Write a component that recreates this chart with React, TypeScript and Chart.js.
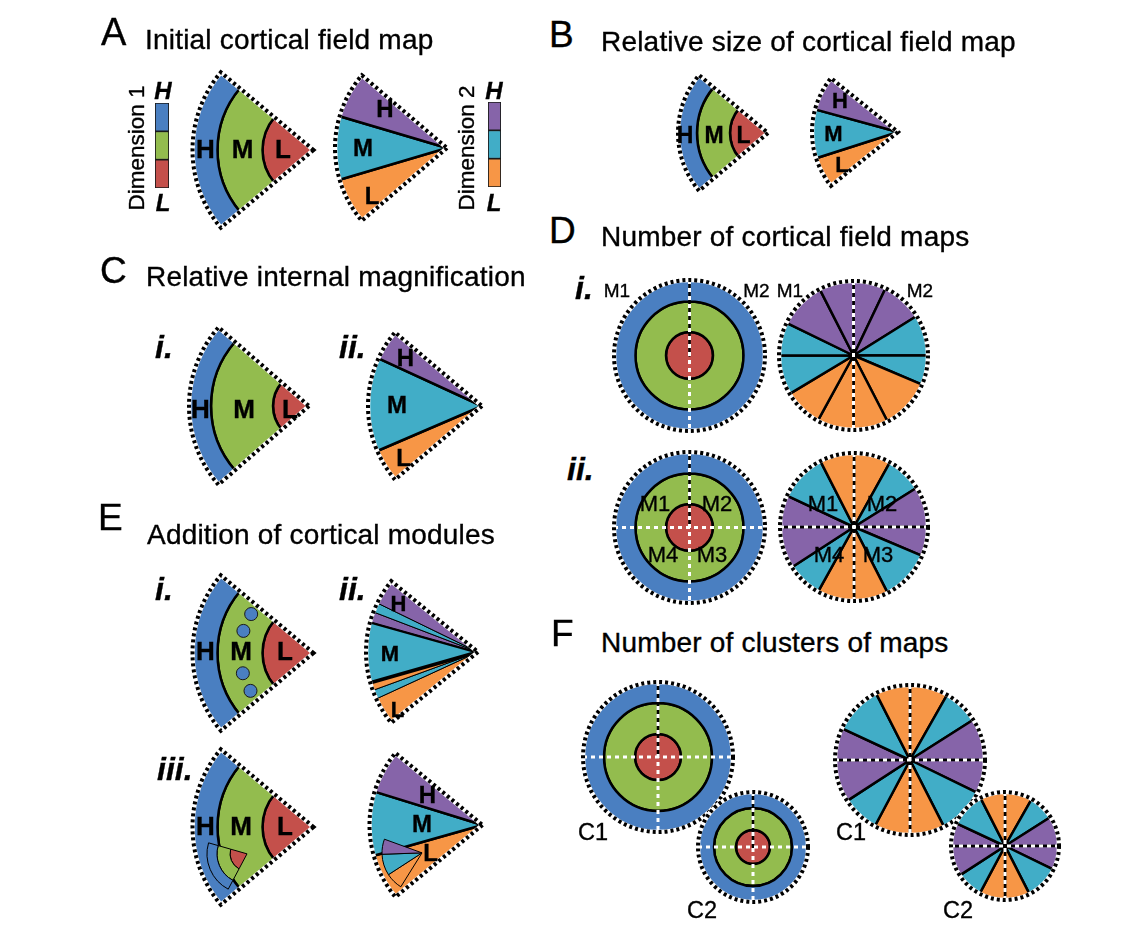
import React, { useEffect, useRef } from 'react';
import { Chart, registerables } from 'chart.js';

Chart.register(...registerables);

const BLUE = '#4a7fc1';
const GREEN = '#93bc4e';
const RED = '#c4504b';
const PURPLE = '#8664a9';
const CYAN = '#41adc7';
const ORANGE = '#f79646';

// Dimension 1: concentric bands, outer H (blue), M (green), inner L (red) — radial widths in px
const DIM1_COLORS = [BLUE, GREEN, RED];
const A1_RINGS = [25, 45, 51];
const B1_RINGS = [19, 33, 38];
const C1_RINGS = [22, 62, 36];
const E1_RINGS = [25, 45, 51];
const E3_RINGS = [25, 45, 51];
const E3_INSET_RINGS = [10, 13, 17];
const D1_RINGS = [21.5, 30.5, 23.5];
const D2_RINGS = [21.5, 30.5, 23.5];
const F_C1_RINGS = [21, 31, 23];
const F_C2_RINGS = [16, 22, 17];

// Dimension 2: angular slices (degrees), clockwise from the lower edge: L (orange), M (cyan), H (purple)
const DIM2_COLORS = [ORANGE, CYAN, PURPLE];
const A2_SLICES = [24, 33, 24];
const B2_SLICES = [21, 33, 23.5];
const C2_SLICES = [17, 48, 15.5];
const E2_SLICES = [14.5, 4.7, 4.1, 31.6, 5.3, 5, 13.3];
const E2_COLORS = [ORANGE, CYAN, ORANGE, CYAN, PURPLE, CYAN, PURPLE];
const E2_BORDERS = [1, 1, 1, 3.5, 1, 1, 1];
const E3_SLICES = [23.8, 33, 22.4];
const E3_INSET_SLICES = [25, 31, 22];

// Full circle maps, slices clockwise from 12 o'clock (degrees)
const DI_SLICES = [25.5, 32.5, 32, 23, 39.7, 27.3, 28.7, 30.3, 31, 26, 37, 27];
const DI_COLORS = [PURPLE, PURPLE, CYAN, CYAN, ORANGE, ORANGE, ORANGE, ORANGE, CYAN, CYAN, PURPLE, PURPLE];
const DII_SLICES = [29, 29, 32, 23, 40, 27, 29, 28, 33, 25, 38, 27];
const DII_COLORS = [ORANGE, CYAN, PURPLE, PURPLE, CYAN, ORANGE, ORANGE, CYAN, PURPLE, PURPLE, CYAN, ORANGE];
const F_SLICES = [29.6, 28, 32.4, 26, 37, 27, 28, 29, 33, 25, 38, 27];
const F_COLORS = DII_COLORS;

// Cortical modules in E i: angular offsets (deg) from the wedge axis, placed mid M band
const E1_MODULES = [32, 17.5, -16, -31];

// colour bar legend segments (bottom to top)
const BAR_SEGMENTS = [1, 1, 1];
const DIM1_BAR_COLORS = [RED, GREEN, BLUE];
const DIM2_BAR_COLORS = [ORANGE, CYAN, PURPLE];

const FONT = "'Liberation Sans', Arial, Helvetica, sans-serif";

type Spec = {
  kind: 'rings' | 'slices';
  values: number[];
  colors: string[];
  cx: number;
  cy: number;
  r?: number;
  start: number;
  circ?: number;
  border: number | number[];
  outline: boolean;
  cross?: 'v' | 'vh';
  modules?: number[];
};

const sum = (a: number[]) => a.reduce((s, v) => s + v, 0);
const wedgeStart = (c: number) => 180 - c / 2;

function makeDecor(spec: Spec) {
  return {
    id: 'decor',
    afterDatasetsDraw(chart: any) {
      const ctx = chart.ctx as CanvasRenderingContext2D;
      const arcs = chart.getDatasetMeta(0).data as any[];
      if (!arcs.length) return;
      const first = arcs[0];
      const last = arcs[arcs.length - 1];
      const x = first.x;
      const y = first.y;
      const R = first.outerRadius;
      const sa = first.startAngle;
      const ea = last.endAngle;
      const full = ea - sa >= 2 * Math.PI - 1e-6;
      ctx.save();
      if (spec.modules && chart.data.datasets.length > 1) {
        const ring = chart.getDatasetMeta(1).data[0] as any;
        const mr = (ring.innerRadius + ring.outerRadius) / 2;
        const axis = (sa + ea) / 2;
        for (const d of spec.modules) {
          const a = axis + (d * Math.PI) / 180;
          ctx.beginPath();
          ctx.arc(x + mr * Math.cos(a), y + mr * Math.sin(a), 6.5, 0, 2 * Math.PI);
          ctx.fillStyle = BLUE;
          ctx.fill();
          ctx.lineWidth = 1;
          ctx.strokeStyle = '#1a1a1a';
          ctx.stroke();
        }
      }
      if (spec.cross) {
        ctx.strokeStyle = '#fff';
        ctx.lineWidth = 3;
        ctx.setLineDash([4, 4]);
        ctx.beginPath();
        ctx.moveTo(x, y - R);
        ctx.lineTo(x, y + R);
        if (spec.cross === 'vh') {
          ctx.moveTo(x - R, y);
          ctx.lineTo(x + R, y);
        }
        ctx.stroke();
      }
      if (spec.outline) {
        ctx.beginPath();
        if (full) {
          ctx.arc(x, y, R, 0, 2 * Math.PI);
        } else {
          ctx.moveTo(x, y);
          ctx.lineTo(x + R * Math.cos(sa), y + R * Math.sin(sa));
          ctx.arc(x, y, R, sa, ea);
          ctx.closePath();
        }
        ctx.lineJoin = 'miter';
        ctx.setLineDash([]);
        ctx.lineWidth = 4.5;
        ctx.strokeStyle = '#fff';
        ctx.stroke();
        ctx.setLineDash([3, 3]);
        ctx.lineWidth = 4;
        ctx.strokeStyle = '#000';
        ctx.stroke();
      }
      ctx.restore();
    },
  };
}

function Sector({ spec }: { spec: Spec }) {
  const ref = useRef<HTMLCanvasElement>(null);
  const R = spec.kind === 'rings' ? sum(spec.values) : (spec.r as number);
  const pad = 8;
  const W = Math.ceil(2 * R + 2 * pad);
  useEffect(() => {
    const canvas = ref.current as HTMLCanvasElement;
    const circ = spec.circ ?? (spec.kind === 'slices' ? sum(spec.values) : 360);
    const datasets =
      spec.kind === 'rings'
        ? spec.values.map((w, i) => ({
            data: [1],
            weight: w,
            backgroundColor: spec.colors[i],
            borderColor: '#000',
            borderWidth: spec.border,
          }))
        : [
            {
              data: spec.values,
              backgroundColor: spec.colors,
              borderColor: '#000',
              borderWidth: spec.border,
            },
          ];
    const chart = new Chart(canvas, {
      type: 'pie',
      data: {
        labels: spec.kind === 'rings' ? [''] : spec.values.map((_, i) => String(i)),
        datasets: datasets as any,
      },
      options: {
        responsive: false,
        animation: false,
        events: [],
        rotation: spec.start + 90,
        circumference: circ,
        radius: R,
        layout: { padding: 0 },
        elements: { arc: { borderAlign: 'center', borderJoinStyle: 'round' } as any },
        plugins: { legend: { display: false }, tooltip: { enabled: false } },
      } as any,
      plugins: [makeDecor(spec)],
    });
    const el: any = chart.getDatasetMeta(0).data[0];
    canvas.style.left = `${spec.cx - el.x}px`;
    canvas.style.top = `${spec.cy - el.y}px`;
    return () => chart.destroy();
  }, []);
  return (
    <canvas
      ref={ref}
      width={W}
      height={W}
      style={{ position: 'absolute', left: spec.cx - W / 2, top: spec.cy - W / 2, width: W, height: W }}
    />
  );
}

function ColorBar({ x, y, w, h, colors }: { x: number; y: number; w: number; h: number; colors: string[] }) {
  const ref = useRef<HTMLCanvasElement>(null);
  useEffect(() => {
    const chart = new Chart(ref.current as HTMLCanvasElement, {
      type: 'bar',
      data: {
        labels: [''],
        datasets: colors.map((c, i) => ({
          data: [BAR_SEGMENTS[i]],
          backgroundColor: c,
          borderColor: '#1a1a1a',
          borderWidth: 1.2,
          borderSkipped: false,
          barPercentage: 1,
          categoryPercentage: 1,
        })),
      },
      options: {
        responsive: false,
        animation: false,
        events: [],
        layout: { padding: 0 },
        plugins: { legend: { display: false }, tooltip: { enabled: false } },
        scales: {
          x: { display: false, stacked: true },
          y: { display: false, stacked: true, min: 0, max: sum(BAR_SEGMENTS) },
        },
      } as any,
    });
    return () => chart.destroy();
  }, []);
  return <canvas ref={ref} width={w} height={h} style={{ position: 'absolute', left: x, top: y, width: w, height: h }} />;
}

type Txt = { t: string; x: number; y: number; s: number; b?: boolean; i?: boolean; a?: 'c' | 'l'; rot?: boolean; ls?: number };

const TEXTS: Txt[] = [
  // panel letters
  { t: 'A', x: 101, y: 45, s: 38, a: 'l' },
  { t: 'B', x: 549, y: 47, s: 37, a: 'l' },
  { t: 'C', x: 100, y: 283, s: 37, a: 'l' },
  { t: 'D', x: 549, y: 243, s: 37, a: 'l' },
  { t: 'E', x: 98, y: 530, s: 37, a: 'l' },
  { t: 'F', x: 551, y: 646, s: 37, a: 'l' },
  // titles
  { t: 'Initial cortical field map', x: 145, y: 50, s: 28, a: 'l', ls: 0.2 },
  { t: 'Relative size of cortical field map', x: 601, y: 52, s: 28, a: 'l', ls: 0.2 },
  { t: 'Relative internal magnification', x: 146, y: 287, s: 28, a: 'l', ls: 0.2 },
  { t: 'Number of cortical field maps', x: 601, y: 247, s: 28, a: 'l', ls: 0.2 },
  { t: 'Addition of cortical modules', x: 147, y: 545, s: 28, a: 'l', ls: 0.2 },
  { t: 'Number of clusters of maps', x: 601, y: 653, s: 28, a: 'l', ls: 0.2 },
  // sub labels
  { t: 'i.', x: 155, y: 358, s: 32, b: true, i: true, a: 'l' },
  { t: 'ii.', x: 339, y: 358, s: 32, b: true, i: true, a: 'l' },
  { t: 'i.', x: 575, y: 299, s: 32, b: true, i: true, a: 'l' },
  { t: 'ii.', x: 567, y: 480, s: 32, b: true, i: true, a: 'l' },
  { t: 'i.', x: 155, y: 600, s: 32, b: true, i: true, a: 'l' },
  { t: 'ii.', x: 339, y: 600, s: 32, b: true, i: true, a: 'l' },
  { t: 'iii.', x: 157, y: 780, s: 32, b: true, i: true, a: 'l' },
  // colour bars
  { t: 'H', x: 163, y: 91, s: 24, b: true, i: true },
  { t: 'L', x: 163, y: 203, s: 24, b: true, i: true },
  { t: 'H', x: 494, y: 91, s: 24, b: true, i: true },
  { t: 'L', x: 494, y: 203, s: 24, b: true, i: true },
  { t: 'Dimension 1', x: 136.5, y: 147.5, s: 22.5, rot: true },
  { t: 'Dimension 2', x: 466.5, y: 147.5, s: 22.5, rot: true },
  // A
  { t: 'H', x: 205.5, y: 149, s: 26, b: true },
  { t: 'M', x: 242.5, y: 149, s: 26, b: true },
  { t: 'L', x: 283, y: 149, s: 26, b: true },
  { t: 'H', x: 385, y: 108.5, s: 24, b: true },
  { t: 'M', x: 363, y: 148, s: 24, b: true },
  { t: 'L', x: 372, y: 196, s: 24, b: true },
  // B
  { t: 'H', x: 685, y: 134.5, s: 23, b: true },
  { t: 'M', x: 714, y: 134.5, s: 23, b: true },
  { t: 'L', x: 743.5, y: 134.5, s: 23, b: true },
  { t: 'H', x: 840, y: 100.5, s: 22, b: true },
  { t: 'M', x: 833.5, y: 133.5, s: 22, b: true },
  { t: 'L', x: 842, y: 164.5, s: 22, b: true },
  // C
  { t: 'H', x: 200.5, y: 408.5, s: 26, b: true },
  { t: 'M', x: 244, y: 408.5, s: 26, b: true },
  { t: 'L', x: 290, y: 408.5, s: 26, b: true },
  { t: 'H', x: 405.5, y: 357.5, s: 24, b: true },
  { t: 'M', x: 397, y: 405, s: 24, b: true },
  { t: 'L', x: 403.5, y: 457.5, s: 24, b: true },
  // E
  { t: 'H', x: 205.5, y: 651, s: 26, b: true },
  { t: 'M', x: 241, y: 651, s: 26, b: true },
  { t: 'L', x: 285, y: 651, s: 26, b: true },
  { t: 'H', x: 398.5, y: 603.5, s: 22, b: true },
  { t: 'M', x: 390, y: 653.5, s: 22, b: true },
  { t: 'L', x: 397.5, y: 709.5, s: 22, b: true },
  { t: 'H', x: 205.5, y: 825.5, s: 26, b: true },
  { t: 'M', x: 241, y: 825.5, s: 26, b: true },
  { t: 'L', x: 285, y: 825.5, s: 26, b: true },
  { t: 'H', x: 427.5, y: 794.5, s: 24, b: true },
  { t: 'M', x: 422, y: 823.5, s: 24, b: true },
  { t: 'L', x: 430.5, y: 852.5, s: 24, b: true },
  // D
  { t: 'M1', x: 617, y: 290, s: 19 },
  { t: 'M2', x: 756.5, y: 290, s: 19 },
  { t: 'M1', x: 790, y: 290, s: 19 },
  { t: 'M2', x: 920, y: 290, s: 19 },
  { t: 'M1', x: 655, y: 503.5, s: 22 },
  { t: 'M2', x: 717, y: 503.5, s: 22 },
  { t: 'M4', x: 663, y: 555, s: 22 },
  { t: 'M3', x: 712, y: 555, s: 22 },
  { t: 'M1', x: 823, y: 503.5, s: 22 },
  { t: 'M2', x: 882, y: 503.5, s: 22 },
  { t: 'M4', x: 829, y: 555, s: 22 },
  { t: 'M3', x: 878, y: 555, s: 22 },
  // F
  { t: 'C1', x: 593, y: 833, s: 23.5 },
  { t: 'C2', x: 702, y: 911, s: 23.5 },
  { t: 'C1', x: 851, y: 833, s: 23.5 },
  { t: 'C2', x: 958, y: 911, s: 23.5 },
];

const SPECS: Spec[] = [
  // A
  { kind: 'rings', values: A1_RINGS, colors: DIM1_COLORS, cx: 313, cy: 150, start: wedgeStart(80), circ: 80, border: 2.5, outline: true },
  { kind: 'slices', values: A2_SLICES, colors: DIM2_COLORS, cx: 447, cy: 148, r: 112, start: wedgeStart(sum(A2_SLICES)), border: 2.5, outline: true },
  // B
  { kind: 'rings', values: B1_RINGS, colors: DIM1_COLORS, cx: 768, cy: 133, start: wedgeStart(80), circ: 80, border: 2.5, outline: true },
  { kind: 'slices', values: B2_SLICES, colors: DIM2_COLORS, cx: 898, cy: 132, r: 86, start: wedgeStart(sum(B2_SLICES)), border: 2.5, outline: true },
  // C
  { kind: 'rings', values: C1_RINGS, colors: DIM1_COLORS, cx: 309, cy: 406, start: wedgeStart(82), circ: 82, border: 2.5, outline: true },
  { kind: 'slices', values: C2_SLICES, colors: DIM2_COLORS, cx: 482, cy: 406, r: 114, start: wedgeStart(sum(C2_SLICES)), border: 2.5, outline: true },
  // E
  { kind: 'rings', values: E1_RINGS, colors: DIM1_COLORS, cx: 313, cy: 653, start: wedgeStart(80), circ: 80, border: 2.5, outline: true, modules: E1_MODULES },
  { kind: 'slices', values: E2_SLICES, colors: E2_COLORS, cx: 478, cy: 652, r: 112, start: wedgeStart(sum(E2_SLICES)), border: E2_BORDERS, outline: true },
  { kind: 'rings', values: E3_RINGS, colors: DIM1_COLORS, cx: 313, cy: 827, start: wedgeStart(80), circ: 80, border: 2.5, outline: true },
  { kind: 'rings', values: E3_INSET_RINGS, colors: DIM1_COLORS, cx: 247, cy: 854, start: 118, circ: 78, border: 1, outline: false },
  { kind: 'slices', values: E3_SLICES, colors: DIM2_COLORS, cx: 482, cy: 825, r: 113, start: wedgeStart(sum(E3_SLICES)), border: 2.5, outline: true },
  { kind: 'slices', values: E3_INSET_SLICES, colors: DIM2_COLORS, cx: 422, cy: 853, r: 40, start: 122, border: 1, outline: false },
  // D
  { kind: 'rings', values: D1_RINGS, colors: DIM1_COLORS, cx: 689, cy: 355, start: -90, circ: 360, border: 2.5, outline: true, cross: 'v' },
  { kind: 'slices', values: DI_SLICES, colors: DI_COLORS, cx: 853, cy: 355, r: 74.5, start: -90, circ: 360, border: 2.5, outline: true, cross: 'v' },
  { kind: 'rings', values: D2_RINGS, colors: DIM1_COLORS, cx: 689, cy: 527, start: -90, circ: 360, border: 2.5, outline: true, cross: 'vh' },
  { kind: 'slices', values: DII_SLICES, colors: DII_COLORS, cx: 854, cy: 527, r: 74, start: -90, circ: 360, border: 2.5, outline: true, cross: 'vh' },
  // F
  { kind: 'rings', values: F_C1_RINGS, colors: DIM1_COLORS, cx: 658, cy: 757, start: -90, circ: 360, border: 2.5, outline: true, cross: 'vh' },
  { kind: 'rings', values: F_C2_RINGS, colors: DIM1_COLORS, cx: 753, cy: 847, start: -90, circ: 360, border: 2.5, outline: true, cross: 'vh' },
  { kind: 'slices', values: F_SLICES, colors: F_COLORS, cx: 910, cy: 760, r: 75, start: -90, circ: 360, border: 2.5, outline: true, cross: 'vh' },
  { kind: 'slices', values: F_SLICES, colors: F_COLORS, cx: 1005, cy: 846, r: 54, start: -90, circ: 360, border: 2.5, outline: true, cross: 'vh' },
];

function Label({ d }: { d: Txt }) {
  const base: React.CSSProperties = {
    position: 'absolute',
    fontFamily: FONT,
    fontSize: d.s,
    lineHeight: `${d.s}px`,
    fontWeight: d.b ? 700 : 400,
    fontStyle: d.i ? 'italic' : 'normal',
    color: '#000',
    whiteSpace: 'nowrap',
    letterSpacing: d.ls ? `${d.ls}px` : undefined,
    WebkitTextStroke: '0.35px #000',
  };
  if (d.a === 'l') {
    return <div style={{ ...base, left: d.x, top: d.y - 0.8465 * d.s }}>{d.t}</div>;
  }
  return (
    <div
      style={{
        ...base,
        left: d.x,
        top: d.y,
        transform: d.rot ? 'translate(-50%, -50%) rotate(-90deg)' : 'translate(-50%, -50%)',
      }}
    >
      {d.t}
    </div>
  );
}

export default function App() {
  return (
    <div style={{ position: 'absolute', left: 0, top: 0, width: 1145, height: 939, background: '#fff', overflow: 'hidden' }}>
      {SPECS.map((s, i) => (
        <Sector key={i} spec={s} />
      ))}
      <ColorBar x={155} y={103} w={14} h={85} colors={DIM1_BAR_COLORS} />
      <ColorBar x={488} y={102} w={13} h={85} colors={DIM2_BAR_COLORS} />
      {TEXTS.map((d, i) => (
        <Label key={i} d={d} />
      ))}
    </div>
  );
}
